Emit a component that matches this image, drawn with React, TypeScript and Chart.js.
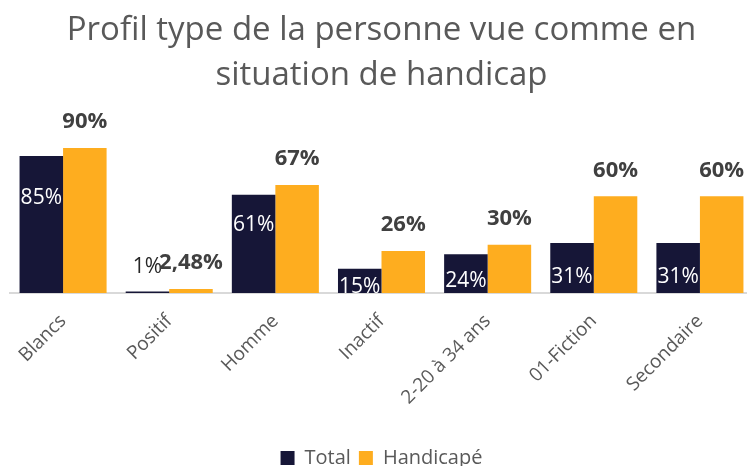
import React, { useEffect, useRef } from "react";
import { Chart, registerables } from "chart.js";

Chart.register(...registerables);

const categories = ["Blancs", "Positif", "Homme", "Inactif", "2-20 à 34 ans", "01-Fiction", "Secondaire"];
const totalValues = [0.85, 0.01, 0.61, 0.15, 0.24, 0.31, 0.31];
const handicapValues = [0.9, 0.0248, 0.67, 0.26, 0.3, 0.6, 0.6];
const totalLabels = ["85%", "1%", "61%", "15%", "24%", "31%", "31%"];
const handicapLabels = ["90%", "2,48%", "67%", "26%", "30%", "60%", "60%"];
const titleLines = ["Profil type de la personne vue comme en", "situation de handicap"];

const NAVY = "#161637";
const ORANGE = "#FEAD1F";
const FONT = "'Open Sans', sans-serif";

const labelPlugin = {
  id: "barLabels",
  afterDatasetsDraw(chart: any) {
    const ctx = chart.ctx;
    ctx.save();
    ctx.textAlign = "center";
    ctx.textBaseline = "middle";
    const m0 = chart.getDatasetMeta(0);
    m0.data.forEach((bar: any, i: number) => {
      const h = bar.base - bar.y;
      let y: number;
      ctx.font = `21px ${FONT}`;
      if (h < 5) {
        ctx.fillStyle = "#262626";
        y = bar.base - 26;
      } else {
        ctx.fillStyle = "#ffffff";
        y = h > 80 ? bar.base - 0.69 * h : bar.base - (0.35 * h - 2);
      }
      ctx.fillText(totalLabels[i], bar.x, y);
    });
    const m1 = chart.getDatasetMeta(1);
    m1.data.forEach((bar: any, i: number) => {
      ctx.font = `bold 22px ${FONT}`;
      ctx.fillStyle = "#404040";
      ctx.fillText(handicapLabels[i], bar.x, bar.y - 26);
    });
    ctx.restore();
  },
};

export default function App() {
  const ref = useRef<HTMLCanvasElement | null>(null);
  useEffect(() => {
    if (!ref.current) return;
    const chart = new Chart(ref.current, {
      type: "bar",
      data: {
        labels: categories,
        datasets: [
          { label: "Total", data: totalValues, backgroundColor: NAVY, borderWidth: 0 },
          { label: "Handicapé", data: handicapValues, backgroundColor: ORANGE, borderWidth: 0 },
        ],
      },
      options: {
        animation: false,
        responsive: false,
        maintainAspectRatio: false,
        datasets: { bar: { categoryPercentage: 0.82, barPercentage: 1.0 } },
        layout: { padding: { left: 10, right: 0, top: 0, bottom: -12 } },
        plugins: {
          title: {
            display: true,
            text: titleLines,
            color: "#595959",
            font: { family: FONT, size: 33, weight: "normal", lineHeight: 1.36 },
            padding: { top: 8, bottom: 34 },
          },
          legend: {
            position: "bottom",
            labels: {
              color: "#595959",
              font: { family: FONT, size: 20 },
              boxWidth: 14,
              boxHeight: 14,
              padding: 8,
            },
          },
          tooltip: { enabled: false },
        },
        scales: {
          x: {
            grid: { display: false, drawTicks: false },
            border: { display: true, color: "#d9d9d9", width: 2 },
            ticks: {
              color: "#595959",
              font: { family: FONT, size: 19 },
              minRotation: 45,
              maxRotation: 45,
              padding: 17,
            },
            afterFit(scale: any) {
              scale.height = 147;
            },
          },
          y: {
            display: false,
            min: 0,
            max: 1,
          },
        },
      },
      plugins: [labelPlugin],
    });
    return () => chart.destroy();
  }, []);
  return (
    <div style={{ position: "fixed", left: 0, top: 0, width: 747, height: 466, overflow: "hidden", background: "#fff" }}>
      <canvas ref={ref} width={753} height={466} style={{ width: 753, height: 466, display: "block" }} />
    </div>
  );
}
